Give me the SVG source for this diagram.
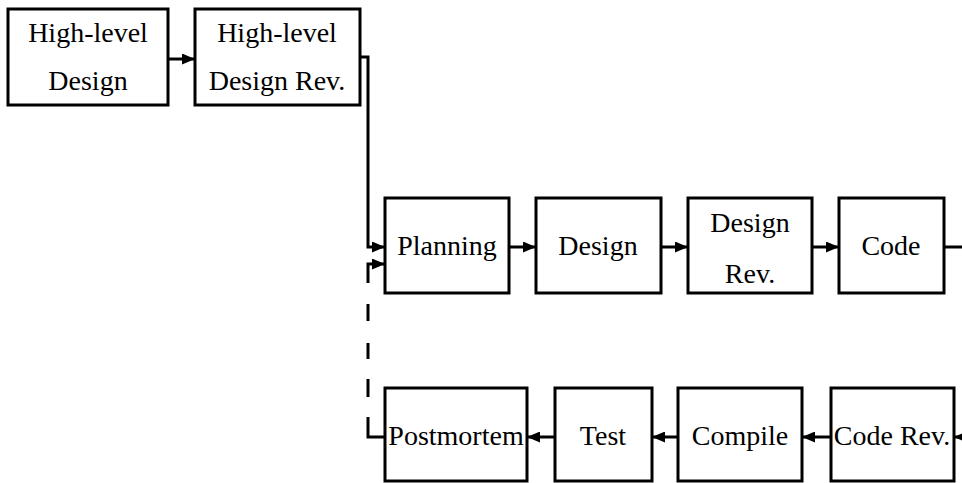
<svg xmlns="http://www.w3.org/2000/svg" width="962" height="483" viewBox="0 0 962 483">
<style>
.box{fill:#fff;stroke:#000;stroke-width:3}
.t{font-family:'Liberation Serif','Times New Roman',serif;font-size:28px;fill:#000;text-anchor:middle}
.c{fill:none;stroke:#000;stroke-width:3}
</style>
<defs>
<marker id="ah" markerUnits="userSpaceOnUse" markerWidth="13" markerHeight="11" refX="13" refY="5.5" orient="auto">
<path d="M0,0 L13,5.5 L0,11 z" fill="#000"/>
</marker>
</defs>
<rect width="962" height="483" fill="#fff"/>
<g id="connectors">
<path class="c" d="M168,59 H195" marker-end="url(#ah)"/>
<path class="c" d="M360,57 H368 V247 H385" marker-end="url(#ah)"/>
<path class="c" d="M509,247 H536" marker-end="url(#ah)"/>
<path class="c" d="M661,247 H688" marker-end="url(#ah)"/>
<path class="c" d="M812,247 H839" marker-end="url(#ah)"/>
<path class="c" d="M944,247 H962"/>
<path class="c" d="M962,437 H954" marker-end="url(#ah)"/>
<path class="c" d="M831,437 H802" marker-end="url(#ah)"/>
<path class="c" d="M678,437 H652" marker-end="url(#ah)"/>
<path class="c" d="M555,437 H527" marker-end="url(#ah)"/>
<path class="c" d="M385,437 H368 V264 H385" stroke-dasharray="37 20 18 20 16 22 17 21 40" marker-end="url(#ah)"/>
</g>
<g id="hld"><rect class="box" x="8" y="9" width="160" height="96"/><text class="t" x="88" y="42">High-level</text><text class="t" x="88" y="90">Design</text></g>
<g id="hldr"><rect class="box" x="195" y="9" width="165" height="96"/><text class="t" x="277" y="42">High-level</text><text class="t" x="277" y="90">Design Rev.</text></g>
<g id="planning"><rect class="box" x="385" y="198" width="124" height="95"/><text class="t" x="447" y="255">Planning</text></g>
<g id="design"><rect class="box" x="536" y="198" width="125" height="95"/><text class="t" x="598" y="255">Design</text></g>
<g id="designrev"><rect class="box" x="688" y="198" width="124" height="95"/><text class="t" x="750" y="232">Design</text><text class="t" x="750" y="283">Rev.</text></g>
<g id="code"><rect class="box" x="839" y="198" width="105" height="95"/><text class="t" x="891" y="255">Code</text></g>
<g id="postmortem"><rect class="box" x="385" y="388" width="142" height="93"/><text class="t" x="456" y="445">Postmortem</text></g>
<g id="test"><rect class="box" x="555" y="388" width="97" height="93"/><text class="t" x="603" y="445">Test</text></g>
<g id="compile"><rect class="box" x="678" y="388" width="124" height="93"/><text class="t" x="740" y="445">Compile</text></g>
<g id="coderev"><rect class="box" x="831" y="388" width="123" height="93"/><text class="t" x="892" y="445">Code Rev.</text></g>
</svg>
